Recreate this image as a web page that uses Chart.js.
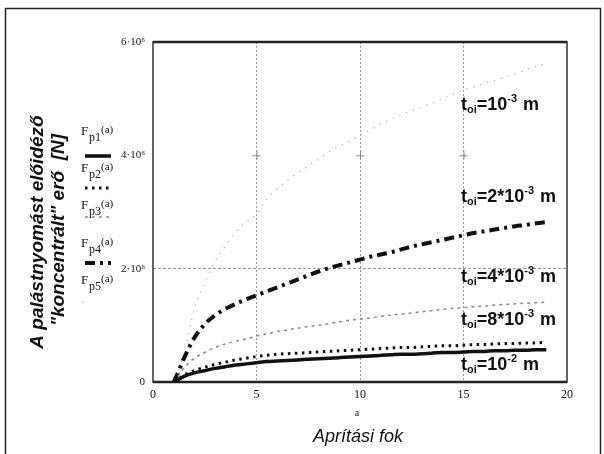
<!DOCTYPE html>
<html>
<head>
<meta charset="utf-8">
<script src="https://cdn.jsdelivr.net/npm/chart.js@4/dist/chart.umd.min.js"></script>
<style>
html,body{margin:0;padding:0;background:#fff;}
#c{display:block;}
</style>
</head>
<body>
<canvas id="c" width="604" height="454"></canvas>
<script>
// Aprítási fok (a)
const aValues = [1,1.25,1.5,2,2.5,3,3.5,4,4.5,5,5.5,6,6.5,7,7.5,8,8.5,9,9.5,10,10.5,11,11.5,12,12.5,13,13.5,14,14.5,15,15.5,16,16.5,17,17.5,18,18.5,19];
// Forces in units of 10^6 N
const fp1 = [0,0.05,0.10,0.16,0.20,0.24,0.27,0.30,0.32,0.34,0.36,0.37,0.38,0.39,0.40,0.41,0.42,0.43,0.44,0.45,0.46,0.47,0.48,0.49,0.49,0.50,0.51,0.52,0.52,0.53,0.54,0.54,0.55,0.55,0.56,0.56,0.57,0.57];
const fp2 = [0,0.06,0.12,0.20,0.26,0.31,0.35,0.39,0.42,0.45,0.47,0.49,0.50,0.51,0.52,0.53,0.54,0.55,0.56,0.57,0.58,0.59,0.60,0.61,0.61,0.62,0.63,0.64,0.64,0.65,0.66,0.66,0.67,0.68,0.68,0.69,0.69,0.70];
const fp3 = [0,0.12,0.25,0.42,0.52,0.61,0.67,0.72,0.76,0.81,0.85,0.89,0.92,0.95,0.98,1.00,1.03,1.06,1.09,1.11,1.13,1.16,1.18,1.20,1.22,1.24,1.26,1.28,1.30,1.31,1.33,1.34,1.36,1.37,1.38,1.39,1.40,1.41];
const fp4 = [0,0.20,0.42,0.78,1.02,1.18,1.29,1.38,1.46,1.53,1.60,1.67,1.74,1.81,1.88,1.95,2.01,2.06,2.11,2.16,2.21,2.25,2.29,2.34,2.39,2.43,2.47,2.51,2.55,2.59,2.63,2.66,2.69,2.72,2.75,2.77,2.80,2.82];
const fp5 = [0,0.25,0.50,1.30,1.75,2.13,2.40,2.65,2.82,2.97,3.23,3.41,3.56,3.69,3.81,3.93,4.06,4.16,4.25,4.36,4.45,4.55,4.64,4.72,4.79,4.85,4.93,5.00,5.08,5.15,5.21,5.27,5.32,5.38,5.44,5.51,5.57,5.62];
const seriesNames = ['Fp1(a)','Fp2(a)','Fp3(a)','Fp4(a)','Fp5(a)'];
const curveLabels = [
  {pre:'10', exp:'-3'},
  {pre:'2*10', exp:'-3'},
  {pre:'4*10', exp:'-3'},
  {pre:'8*10', exp:'-3'},
  {pre:'10', exp:'-2'}
];
const xTicks = [0,5,10,15,20];
const yTicks = [0,2,4,6];

const pts = arr => aValues.map((a,i)=>({x:a,y:arr[i]}));

const styles = [
  {color:'#111', width:3.5, dash:[]},
  {color:'#111', width:3, dash:[2.5,4.5]},
  {color:'#8a8a8a', width:1.5, dash:[3,4]},
  {color:'#111', width:4, dash:[10,5,3,5]},
  {color:'#b0b0b0', width:1.2, dash:[1.2,6]}
];
const dataArrays = [fp1,fp2,fp3,fp4,fp5];

const decor = {
  id:'decor',
  beforeDatasetsDraw(chart){
    const {ctx, chartArea:ca, scales:{x,y}} = chart;
    ctx.save();
    ctx.strokeStyle='#888'; ctx.lineWidth=1;
    [5,10,15].forEach(v=>{
      const px=x.getPixelForValue(v), py=y.getPixelForValue(4);
      ctx.beginPath(); ctx.moveTo(px-4,py+0.5); ctx.lineTo(px+4,py+0.5);
      ctx.moveTo(px+0.5,py-4); ctx.lineTo(px+0.5,py+4); ctx.stroke();
    });
    ctx.strokeStyle='#333'; ctx.lineWidth=1.5;
    ctx.strokeRect(ca.left, ca.top, ca.right-ca.left, ca.bottom-ca.top);
    ctx.lineWidth=2.5; ctx.strokeStyle='#222';
    ctx.beginPath(); ctx.moveTo(ca.left, ca.top); ctx.lineTo(ca.right, ca.top); ctx.stroke();
    ctx.beginPath(); ctx.moveTo(ca.left, ca.bottom); ctx.lineTo(ca.right, ca.bottom); ctx.stroke();
    ctx.restore();
  },
  afterDraw(chart){
    const {ctx} = chart;
    ctx.save();
    ctx.strokeStyle='#222'; ctx.lineWidth=1.5;
    ctx.beginPath(); ctx.moveTo(5.5,454); ctx.lineTo(5.5,8.5); ctx.lineTo(600.5,8.5); ctx.lineTo(600.5,454); ctx.stroke();
    ctx.fillStyle='#111';
    ctx.font='italic bold 19px "Liberation Sans", Arial, sans-serif';
    ctx.textAlign='center'; ctx.textBaseline='middle';
    ctx.save(); ctx.translate(38,232); ctx.rotate(-Math.PI/2);
    ctx.fillText('A palástnyomást előidéző',0,0); ctx.restore();
    ctx.save(); ctx.translate(59,230); ctx.rotate(-Math.PI/2);
    ctx.fillText('"koncentrált" erő  [N]',0,0); ctx.restore();
    ctx.font='10px "Liberation Serif", serif';
    ctx.fillText('a',357,413);
    ctx.font='italic 18px "Liberation Sans", Arial, sans-serif';
    ctx.fillText('Aprítási fok',358,437);
    const legY=[131,168,205,243,280];
    const sampY=[156,188,217,263,302];
    ctx.textAlign='left'; ctx.textBaseline='alphabetic';
    legY.forEach((ly,i)=>{
      ctx.font='13px "Liberation Serif", serif';
      ctx.fillText('F',81,ly+4);
      ctx.font='12px "Liberation Serif", serif';
      ctx.fillText('p'+(i+1),89,ly+10);
      ctx.font='11px "Liberation Serif", serif';
      ctx.fillText('(a)',101,ly+2);
      const s=styles[i];
      ctx.save();
      ctx.strokeStyle=s.color; ctx.lineWidth=s.width; ctx.setLineDash(s.dash);
      ctx.beginPath();
      if(i===4){ ctx.moveTo(82,sampY[i]); ctx.lineTo(84,sampY[i]); }
      else { ctx.moveTo(85,sampY[i]); ctx.lineTo(111,sampY[i]); }
      ctx.stroke(); ctx.restore();
    });
    const labY=[110,202,282,325,370];
    labY.forEach((by,i)=>{
      let xx=461;
      ctx.font='bold 18px "Liberation Sans", Arial, sans-serif';
      ctx.fillText('t',xx,by); xx+=ctx.measureText('t').width;
      ctx.font='bold 11px "Liberation Sans", Arial, sans-serif';
      ctx.fillText('oi',xx,by+3); xx+=ctx.measureText('oi').width;
      ctx.font='bold 18px "Liberation Sans", Arial, sans-serif';
      const t1='='+curveLabels[i].pre;
      ctx.fillText(t1,xx,by); xx+=ctx.measureText(t1).width;
      ctx.font='bold 11px "Liberation Sans", Arial, sans-serif';
      ctx.fillText(curveLabels[i].exp,xx,by-8); xx+=ctx.measureText(curveLabels[i].exp).width;
      ctx.font='bold 18px "Liberation Sans", Arial, sans-serif';
      ctx.fillText(' m',xx+1,by);
    });
    ctx.restore();
  }
};

new Chart(document.getElementById('c'), {
  type:'line',
  data:{
    datasets: dataArrays.map((arr,i)=>({
      label: seriesNames[i],
      data: pts(arr),
      borderColor: styles[i].color,
      borderWidth: styles[i].width,
      borderDash: styles[i].dash,
      pointRadius: 0,
      fill:false,
      cubicInterpolationMode:'monotone'
    }))
  },
  options:{
    responsive:false,
    animation:false,
    devicePixelRatio:1,
    layout:{padding:{top:42,right:37,left:0,bottom:0}},
    plugins:{legend:{display:false}, tooltip:{enabled:false}},
    scales:{
      x:{
        type:'linear', min:0, max:20,
        afterBuildTicks: s => { s.ticks = xTicks.map(v=>({value:v})); },
        afterFit: s => { s.height = 72; },
        border:{display:false, dash:[2,2]},
        grid:{
          drawTicks:false,
          color: c => ([5,10,15].includes(c.tick && c.tick.value) ? '#9a9a9a' : 'rgba(0,0,0,0)'),
          lineWidth:1
        },
        ticks:{ padding:6, color:'#111', font:{family:'"Liberation Serif", serif', size:12}, maxRotation:0 }
      },
      y:{
        type:'linear', min:0, max:6,
        afterBuildTicks: s => { s.ticks = yTicks.map(v=>({value:v})); },
        afterFit: s => { s.width = 153; },
        border:{display:false, dash:[3,2]},
        grid:{
          drawTicks:false,
          color: c => ((c.tick && c.tick.value===2) ? '#9a9a9a' : 'rgba(0,0,0,0)'),
          lineWidth:1
        },
        ticks:{
          padding:8, color:'#111',
          font:{family:'"Liberation Serif", serif', size:11},
          callback: v => v===0 ? '0' : v+'·10⁶'
        }
      }
    }
  },
  plugins:[decor]
});
</script>
</body>
</html>
